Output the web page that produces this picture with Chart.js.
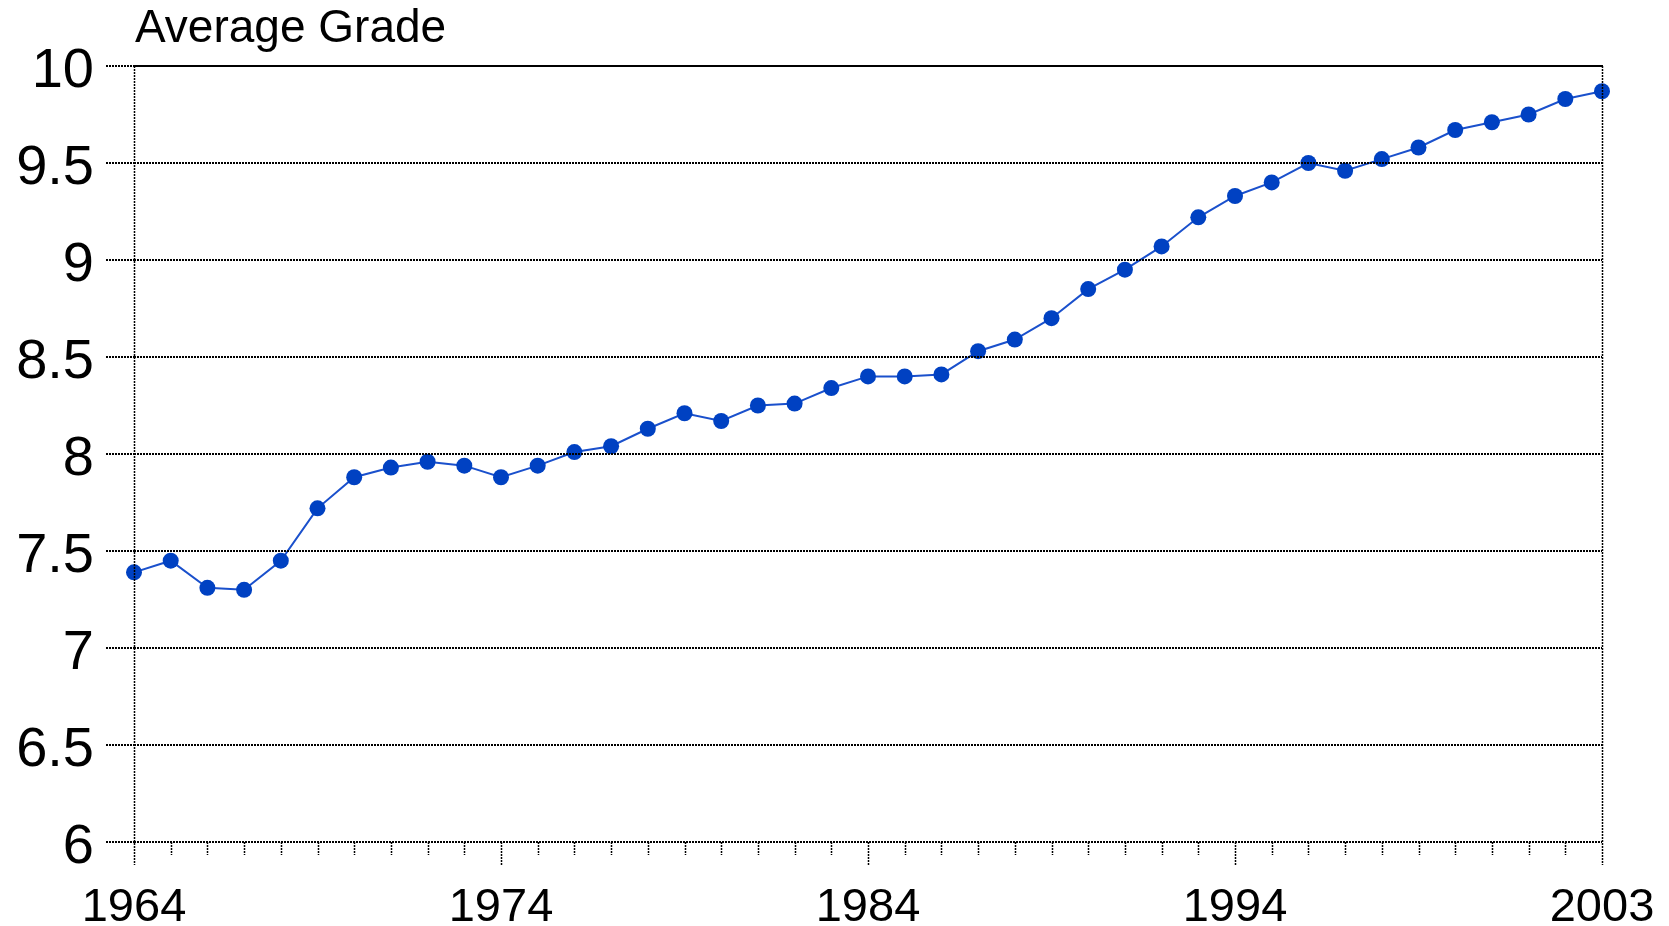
<!DOCTYPE html>
<html><head><meta charset="utf-8">
<script src="https://cdn.jsdelivr.net/npm/chart.js@4"></script>
<style>html,body{margin:0;padding:0;background:#fff;overflow:hidden}canvas{display:block}</style>
</head><body>
<canvas id="c" width="1669" height="926"></canvas>
<script>
const yAxisTitle = 'Average Grade';
const tickLabels = ['1964', '1974', '1984', '1994', '2003'];
const tickEvery = 10;
const averageGrade = [7.39, 7.45, 7.31, 7.30, 7.45, 7.72, 7.88, 7.93, 7.96, 7.94,
  7.88, 7.94, 8.01, 8.04, 8.13, 8.21, 8.17, 8.25, 8.26, 8.34,
  8.40, 8.40, 8.41, 8.53, 8.59, 8.70, 8.85, 8.95, 9.07, 9.22,
  9.33, 9.40, 9.50, 9.46, 9.52, 9.58, 9.67, 9.71, 9.75, 9.83, 9.87];
const yMin = 6, yMax = 10, yStep = 0.5;

const categories = averageGrade.map((_, i) => i % tickEvery === 0 ? tickLabels[i / tickEvery] : '');
const FONT = '"Liberation Sans", Arial, sans-serif';

const decor = {
  id: 'decor',
  afterDatasetsDraw(chart) {
    const { ctx, chartArea: a, scales: { x, y } } = chart;
    const yt = Math.round(y.getPixelForValue(yMax));
    const yb = Math.round(y.getPixelForValue(yMin));
    ctx.save();
    ctx.strokeStyle = '#000';
    ctx.lineWidth = 2;
    ctx.beginPath(); ctx.moveTo(a.left, yt); ctx.lineTo(a.right + 1, yt); ctx.stroke();
    ctx.setLineDash([2, 1]);
    ctx.lineWidth = 1.5;
    const n = averageGrade.length;
    for (let i = 0; i < n; i++) {
      const px = Math.round(x.getPixelForValue(i)) + 0.5;
      const major = i % tickEvery === 0;
      const top = (i === 0 || i === n - 1) ? yt : yb;
      ctx.beginPath(); ctx.moveTo(px, top); ctx.lineTo(px, yb + (major ? 23 : 13)); ctx.stroke();
    }
    ctx.restore();
  },
  afterDraw(chart) {
    const { ctx, chartArea: a } = chart;
    ctx.save();
    ctx.fillStyle = '#000';
    ctx.font = '46px ' + FONT;
    ctx.textAlign = 'left';
    ctx.textBaseline = 'alphabetic';
    ctx.fillText(yAxisTitle, a.left + 1, 42);
    ctx.restore();
  }
};

new Chart(document.getElementById('c'), {
  type: 'line',
  data: {
    labels: categories,
    datasets: [{
      data: averageGrade,
      borderColor: '#1a50cc',
      borderWidth: 2,
      backgroundColor: '#0041c2',
      pointBackgroundColor: '#0041c2',
      pointBorderColor: '#0041c2',
      pointBorderWidth: 0,
      pointRadius: 8,
      tension: 0,
      clip: false
    }]
  },
  options: {
    responsive: false,
    animation: false,
    events: [],
    layout: { padding: { left: 0, right: 67, top: 66, bottom: 0 } },
    plugins: { legend: { display: false }, tooltip: { enabled: false }, title: { display: false } },
    scales: {
      x: {
        type: 'category',
        offset: false,
        grid: { display: false, drawTicks: false },
        border: { display: false },
        ticks: {
          autoSkip: false, maxRotation: 0, minRotation: 0,
          padding: 38,
          color: '#000',
          font: { family: FONT, size: 47 }
        },
        afterFit(s) { s.height = 84; s.paddingLeft = 0; s.paddingRight = 0; }
      },
      y: {
        min: yMin, max: yMax,
        grid: { color: '#000', lineWidth: 2, tickLength: 28, tickColor: '#000', tickWidth: 2, tickBorderDash: [2, 1], z: 1 },
        border: { display: false, dash: [2, 1] },
        ticks: {
          stepSize: yStep,
          padding: 12,
          labelOffset: 6,
          color: '#000',
          font: { family: FONT, size: 56 },
          callback: v => String(v)
        },
        afterFit(s) { s.width = 134; s.paddingTop = 0; s.paddingBottom = 0; }
      }
    }
  },
  plugins: [decor]
});
</script>
</body></html>
